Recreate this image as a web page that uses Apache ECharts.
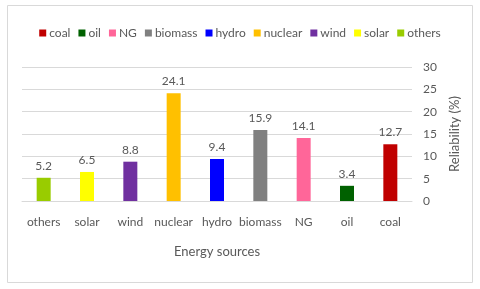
<!DOCTYPE html>
<html><head><meta charset="utf-8">
<script src="https://cdn.jsdelivr.net/npm/echarts@6/dist/echarts.min.js"></script>
<style>html,body{margin:0;padding:0;background:#fff}#c{width:480px;height:289px}</style>
</head><body><div id="c"></div>
<script>
var categories = ['others','solar','wind','nuclear','hydro','biomass','NG','oil','coal'];
var values = [5.2, 6.5, 8.8, 24.1, 9.4, 15.9, 14.1, 3.4, 12.7];
var legendOrder = ['coal','oil','NG','biomass','hydro','nuclear','wind','solar','others'];
var colors = {coal:'#C00000', oil:'#006100', NG:'#FF6699', biomass:'#808080', hydro:'#0000FF', nuclear:'#FFC000', wind:'#7030A0', solar:'#FFFF00', others:'#99CC00'};

var font = 'Lato, "Open Sans", sans-serif';
var series = legendOrder.map(function(name){
  var idx = categories.indexOf(name);
  var d = categories.map(function(c,i){ return i===idx ? values[i] : null; });
  return {
    name: name, type: 'bar', stack: 'all', barWidth: 14, data: d,
    itemStyle: {color: colors[name]},
    label: {show: true, position: 'top', distance: 6, color: '#595959', fontSize: 12, fontFamily: font}
  };
});

var chart = echarts.init(document.getElementById('c'));
chart.setOption({
  animation: false,
  graphic: [{type:'rect', shape:{x:7.5,y:5.5,width:465,height:277}, style:{fill:'none', stroke:'#d9d9d9', lineWidth:1}, z:-1}],
  legend: {
    data: legendOrder, top: 22, left: 'center', itemWidth: 7, itemHeight: 7, itemGap: 8,
    icon: 'rect',
    textStyle: {color:'#595959', fontSize: 12, fontFamily: font, padding:[0,0,0,-2]}
  },
  grid: {left: 22, right: 68, top: 67, bottom: 88},
  xAxis: {
    type: 'category', data: categories,
    name: 'Energy sources', nameLocation: 'middle', nameGap: 44,
    nameTextStyle: {color:'#595959', fontSize: 13, fontFamily: font},
    axisLine: {lineStyle:{color:'#d9d9d9'}}, axisTick: {show:false},
    axisLabel: {color:'#595959', fontSize: 12, fontFamily: font, margin: 15, interval: 0}
  },
  yAxis: {
    type: 'value', position: 'right', min: 0, max: 30, interval: 5,
    name: 'Reliability (%)', nameLocation: 'middle', nameRotate: 90, nameGap: 31,
    nameTextStyle: {color:'#595959', fontSize: 13, fontFamily: font},
    axisLine: {show:false}, axisTick: {show:false},
    splitLine: {lineStyle:{color:'#d9d9d9'}},
    axisLabel: {color:'#595959', fontSize: 12, fontFamily: font, margin: 11}
  },
  series: series
});
</script></body></html>
